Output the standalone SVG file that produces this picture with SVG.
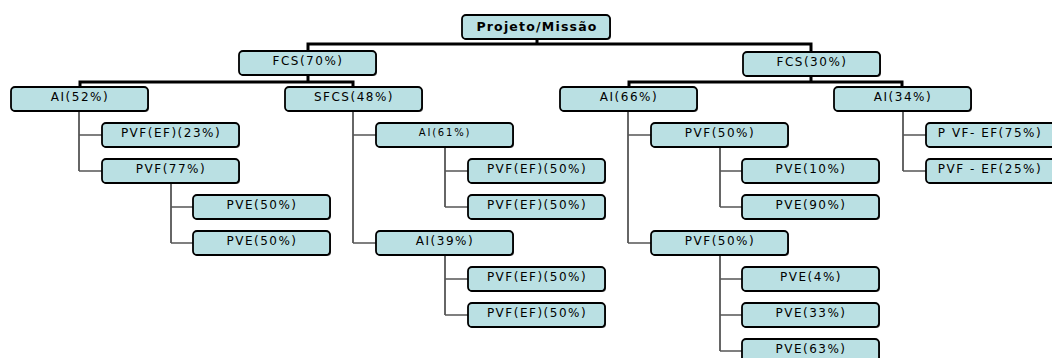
<svg xmlns="http://www.w3.org/2000/svg" width="1052" height="358" viewBox="0 0 1052 358">
  <style>
    .box { fill: #bae0e3; stroke: #000; stroke-width: 1.8; }
    .shadow { fill: #444; }
    .lbl { font-family: "DejaVu Sans", Verdana, sans-serif; font-size: 12px; letter-spacing: 1.5px; fill: #000; text-anchor: middle; }
    .small { font-size: 10px; letter-spacing: 1.8px; }
    .root { font-weight: bold; font-size: 12.5px; letter-spacing: 1.2px; }
    .thick { fill: none; stroke: #000; stroke-width: 3; }
    .thin { fill: none; stroke: #333; stroke-width: 1.5; }
    .stub { fill: none; stroke: #555; stroke-width: 1.5; }
  </style>
  <defs>
    <g id="node">
      <rect class="shadow" x="1" y="1" width="137" height="24" rx="4"/>
      <rect class="box" x="0" y="0" width="137" height="24" rx="4"/>
    </g>
  </defs>
  <rect width="1052" height="358" fill="#fff"/>

  <!-- connectors -->
  <g id="connectors">
    <path class="thick" d="M537,39 V44 M308,51 V44 H811 V52"/>
    <path class="thick" d="M308,74 V82 M80,87 V82 H353 V87"/>
    <path class="thick" d="M811,75 V82 M629,87 V82 H902 V87"/>

    <path class="thin" d="M79,111 V171"/>
    <path class="stub" d="M79,135 H102 M79,171 H102"/>
    <path class="thin" d="M171,183 V243"/>
    <path class="stub" d="M171,207 H193 M171,243 H193"/>

    <path class="thin" d="M353,111 V243"/>
    <path class="stub" d="M353,135 H376 M353,243 H376"/>
    <path class="thin" d="M445,147 V207"/>
    <path class="stub" d="M445,171 H468 M445,207 H468"/>
    <path class="thin" d="M445,255 V315"/>
    <path class="stub" d="M445,279 H468 M445,315 H468"/>

    <path class="thin" d="M628,111 V243"/>
    <path class="stub" d="M628,135 H651 M628,243 H651"/>
    <path class="thin" d="M720,147 V207"/>
    <path class="stub" d="M720,171 H742 M720,207 H742"/>
    <path class="thin" d="M720,255 V351"/>
    <path class="stub" d="M720,279 H742 M720,315 H742 M720,351 H742"/>

    <path class="thin" d="M903,111 V171"/>
    <path class="stub" d="M903,135 H926 M903,171 H926"/>
  </g>

  <!-- root -->
  <g id="n-root">
    <rect class="shadow" x="463" y="16" width="148" height="24" rx="4"/>
    <rect class="box" x="462" y="15" width="148" height="24" rx="4"/>
    <text class="lbl root" x="537" y="31">Projeto/Missão</text>
  </g>

  <!-- level 1 -->
  <g id="n-fcs70"><use href="#node" x="239" y="51"/><text class="lbl" x="308" y="65">FCS(70%)</text></g>
  <g id="n-fcs30"><use href="#node" x="743" y="52"/><text class="lbl" x="812" y="66">FCS(30%)</text></g>

  <!-- level 2 -->
  <g id="n-ai52"><use href="#node" x="11" y="87"/><text class="lbl" x="80" y="101">AI(52%)</text></g>
  <g id="n-sfcs48"><use href="#node" x="285" y="87"/><text class="lbl" x="354" y="101">SFCS(48%)</text></g>
  <g id="n-ai66"><use href="#node" x="560" y="87"/><text class="lbl" x="629" y="101">AI(66%)</text></g>
  <g id="n-ai34"><use href="#node" x="834" y="87"/><text class="lbl" x="903" y="101">AI(34%)</text></g>

  <!-- AI(52%) branch -->
  <g id="n-pvfef23"><use href="#node" x="102" y="123"/><text class="lbl" x="171" y="137">PVF(EF)(23%)</text></g>
  <g id="n-pvf77"><use href="#node" x="102" y="159"/><text class="lbl" x="171" y="173">PVF(77%)</text></g>
  <g id="n-pve50a"><use href="#node" x="193" y="195"/><text class="lbl" x="262" y="209">PVE(50%)</text></g>
  <g id="n-pve50b"><use href="#node" x="193" y="231"/><text class="lbl" x="262" y="245">PVE(50%)</text></g>

  <!-- SFCS(48%) branch -->
  <g id="n-ai61"><use href="#node" x="376" y="123"/><text class="lbl small" x="445" y="136">AI(61%)</text></g>
  <g id="n-pvfef50a"><use href="#node" x="468" y="159"/><text class="lbl" x="537" y="173">PVF(EF)(50%)</text></g>
  <g id="n-pvfef50b"><use href="#node" x="468" y="195"/><text class="lbl" x="537" y="209">PVF(EF)(50%)</text></g>
  <g id="n-ai39"><use href="#node" x="376" y="231"/><text class="lbl" x="445" y="245">AI(39%)</text></g>
  <g id="n-pvfef50c"><use href="#node" x="468" y="267"/><text class="lbl" x="537" y="281">PVF(EF)(50%)</text></g>
  <g id="n-pvfef50d"><use href="#node" x="468" y="303"/><text class="lbl" x="537" y="317">PVF(EF)(50%)</text></g>

  <!-- AI(66%) branch -->
  <g id="n-pvf50a"><use href="#node" x="651" y="123"/><text class="lbl" x="720" y="137">PVF(50%)</text></g>
  <g id="n-pve10"><use href="#node" x="742" y="159"/><text class="lbl" x="811" y="173">PVE(10%)</text></g>
  <g id="n-pve90"><use href="#node" x="742" y="195"/><text class="lbl" x="811" y="209">PVE(90%)</text></g>
  <g id="n-pvf50b"><use href="#node" x="651" y="231"/><text class="lbl" x="720" y="245">PVF(50%)</text></g>
  <g id="n-pve4"><use href="#node" x="742" y="267"/><text class="lbl" x="811" y="281">PVE(4%)</text></g>
  <g id="n-pve33"><use href="#node" x="742" y="303"/><text class="lbl" x="811" y="317">PVE(33%)</text></g>
  <g id="n-pve63"><use href="#node" x="742" y="339"/><text class="lbl" x="811" y="353">PVE(63%)</text></g>

  <!-- AI(34%) branch -->
  <g id="n-pvfef75"><use href="#node" x="926" y="123"/><text class="lbl" x="990" y="137">P VF- EF(75%)</text></g>
  <g id="n-pvfef25"><use href="#node" x="926" y="159"/><text class="lbl" x="990" y="173">PVF - EF(25%)</text></g>
</svg>
